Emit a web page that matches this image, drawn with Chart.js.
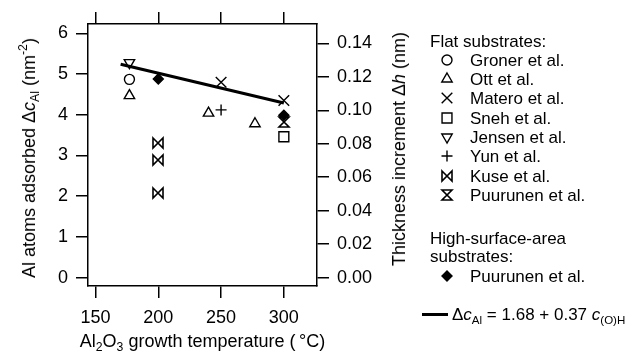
<!DOCTYPE html>
<html>
<head>
<meta charset="utf-8">
<script src="https://cdn.jsdelivr.net/npm/chart.js@4"></script>
<style>
  html, body { margin: 0; padding: 0; background: #fff; }
  #wrap { position: relative; width: 641px; height: 358px; overflow: hidden;
          font-family: "Liberation Sans", Arial, sans-serif; color: #000; }
  #chart { position: absolute; left: 0; top: 0; }
  .title { position: absolute; white-space: nowrap; font-size: 18px; line-height: 1;
           transform: translate(-50%, -50%); }
  .title.rot { transform: translate(-50%, -50%) rotate(-90deg); }
  sub, sup { font-size: 0.68em; line-height: 0; }
  sub { vertical-align: -0.35em; }
  sup { vertical-align: 0.65em; }
  .row { position: absolute; white-space: nowrap; font-size: 17px; line-height: 1;
         transform: translateY(-50%); }
  .sym { position: absolute; }
  .fitline { position: absolute; height: 3px; background: #000; }
</style>
</head>
<body>
<div id="wrap">
  <canvas id="chart" width="641" height="358"></canvas>
  <div class="title rot" style="left:28.5px; top:157.5px">Al atoms adsorbed &Delta;<i>c</i><sub>Al</sub> (nm<sup>-2</sup>)</div>
  <div class="title rot" style="left:398.5px; top:149px">Thickness increment &Delta;<i>h</i> (nm)</div>
  <div class="title" style="left:202.5px; top:341px">Al<sub>2</sub>O<sub>3</sub> growth temperature (&#8201;&deg;C)</div>
  <div id="legend"></div>
</div>
<script>
// growth temperature (°C) and Al atoms adsorbed (nm^-2) per literature source
const gronerT = [177];
const gronerC = [4.87];
const ottT = [177, 240, 277];
const ottC = [4.47, 4.04, 3.78];
const materoT = [250, 300];
const materoC = [4.80, 4.35];
const snehT = [300];
const snehC = [3.46];
const jensenT = [177];
const jensenC = [5.28];
const yunT = [250];
const yunC = [4.12];
const kuseT = [200, 200, 200];
const kuseC = [3.31, 2.89, 2.08];
const puurunenFlatT = [300];
const puurunenFlatC = [3.82];
const puurunenHsaT = [200, 300];
const puurunenHsaC = [4.88, 3.99];

// dc_Al = 1.68 + 0.37 c_(O)H, evaluated at the ends of the temperature range
const fitT = [170, 300];
const fitC = [5.24, 4.29];

const tempTicks = [150, 200, 250, 300];
const cTicks = [0, 1, 2, 3, 4, 5, 6];
const hTicks = [0, 0.02, 0.04, 0.06, 0.08, 0.10, 0.12, 0.14];

// open bow-tie / hourglass symbols have no built-in point style
function glyph(kind) {
    const c = document.createElement('canvas');
    c.width = 14;
    c.height = 14;
    const g = c.getContext('2d');
    g.strokeStyle = '#000';
    g.lineWidth = 1.6;
    const a = 2, b = 12;
    g.beginPath();
    if (kind === 'bowtie') {
        g.moveTo(a, a); g.lineTo(b, b); g.lineTo(b, a); g.lineTo(a, b);
    } else {
        g.moveTo(a, a); g.lineTo(b, a); g.lineTo(a, b); g.lineTo(b, b);
    }
    g.closePath();
    g.stroke();
    return c;
}

const markers = {
    groner: { style: 'circle', radius: 5 },
    ott: { style: 'triangle', radius: 6 },
    matero: { style: 'crossRot', radius: 7.5 },
    sneh: { style: 'rect', radius: 7 },
    jensen: { style: 'triangle', radius: 6, rotation: 180 },
    yun: { style: 'cross', radius: 5.5 },
    kuse: { style: glyph('bowtie'), radius: 6 },
    puurunenFlat: { style: glyph('hourglass'), radius: 6 },
    puurunenHsa: { style: 'rectRot', radius: 5, filled: true }
};

function series(label, xs, ys, m) {
    return {
        label: label,
        data: xs.map((x, i) => ({ x: x, y: ys[i] })),
        showLine: false,
        pointStyle: m.style,
        pointRadius: m.radius,
        pointHoverRadius: m.radius,
        pointRotation: m.rotation || 0,
        pointBorderWidth: 1.4,
        pointBorderColor: '#000',
        pointBackgroundColor: m.filled ? '#000' : 'rgba(0,0,0,0)',
        borderColor: '#000'
    };
}

const datasets = [
    series('Puurunen et al. (high-surface-area)', puurunenHsaT, puurunenHsaC, markers.puurunenHsa),
    {
        label: 'fit',
        data: fitT.map((x, i) => ({ x: x, y: fitC[i] })),
        showLine: true,
        borderColor: '#000',
        borderWidth: 3,
        pointRadius: 0,
        pointHoverRadius: 0
    },
    series('Groner et al.', gronerT, gronerC, markers.groner),
    series('Ott et al.', ottT, ottC, markers.ott),
    series('Matero et al.', materoT, materoC, markers.matero),
    series('Sneh et al.', snehT, snehC, markers.sneh),
    series('Jensen et al.', jensenT, jensenC, markers.jensen),
    series('Yun et al.', yunT, yunC, markers.yun),
    series('Kuse et al.', kuseT, kuseC, markers.kuse),
    series('Puurunen et al.', puurunenFlatT, puurunenFlatC, markers.puurunenFlat)
];

Chart.defaults.font.family = '"Liberation Sans", Arial, sans-serif';
Chart.defaults.font.size = 18;
Chart.defaults.color = '#000';

const tickMarks = { drawOnChartArea: false, drawTicks: true, tickLength: 12, color: '#000', lineWidth: 1.5 };
const frame = { display: true, color: '#000', width: 1.5 };

function fixTicks(values) {
    return scale => { scale.ticks = values.map(v => ({ value: v })); };
}

// keep the image point styles crisp instead of resampled at fractional positions
const crispImages = {
    id: 'crispImages',
    beforeDatasetsDraw(chart) { chart.ctx.imageSmoothingEnabled = false; },
    afterDatasetsDraw(chart) { chart.ctx.imageSmoothingEnabled = true; }
};

new Chart(document.getElementById('chart'), {
    type: 'scatter',
    data: { datasets: datasets },
    plugins: [crispImages],
    options: {
        responsive: false,
        animation: false,
        events: [],
        layout: { padding: 0 },
        plugins: { legend: { display: false }, tooltip: { enabled: false } },
        scales: {
            x: {
                type: 'linear', position: 'bottom', min: 144, max: 326.4,
                afterBuildTicks: fixTicks(tempTicks),
                afterFit: s => { s.height = 72; },
                grid: tickMarks, border: frame,
                ticks: { padding: 9, maxRotation: 0, callback: v => String(v) }
            },
            xTop: {
                type: 'linear', position: 'top', min: 144, max: 326.4,
                afterBuildTicks: fixTicks(tempTicks),
                afterFit: s => { s.height = 24; },
                grid: tickMarks, border: frame,
                ticks: { display: false }
            },
            y: {
                type: 'linear', position: 'left', min: -0.204, max: 6.229,
                afterBuildTicks: fixTicks(cTicks),
                afterFit: s => { s.width = 88; },
                grid: tickMarks, border: frame,
                ticks: { padding: 8, callback: v => String(v) }
            },
            yR: {
                type: 'linear', position: 'right', min: -0.00496, max: 0.15153,
                afterBuildTicks: fixTicks(hTicks),
                afterFit: s => { s.width = 324; },
                grid: tickMarks, border: frame,
                ticks: { padding: 8, callback: v => v.toFixed(2) }
            }
        }
    }
});

// legend on the right
const legend = document.getElementById('legend');
const rowY0 = 40.5, rowStep = 19.3;
const symX = 447, textX = 470, headX = 430;

function addRow(html, x, y) {
    const d = document.createElement('div');
    d.className = 'row';
    d.style.left = x + 'px';
    d.style.top = y + 'px';
    d.innerHTML = html;
    legend.appendChild(d);
}

function addSymbol(m, x, y) {
    const c = document.createElement('canvas');
    c.width = 20;
    c.height = 20;
    c.className = 'sym';
    c.style.left = (x - 10) + 'px';
    c.style.top = Math.round(y - 10) + 'px';
    const ctx = c.getContext('2d');
    ctx.strokeStyle = '#000';
    ctx.fillStyle = m.filled ? '#000' : 'rgba(0,0,0,0)';
    ctx.lineWidth = 1.4;
    Chart.helpers.drawPoint(ctx, {
        pointStyle: m.style, radius: m.radius, rotation: m.rotation || 0, borderWidth: 1.4
    }, 10, 10);
    legend.appendChild(c);
}

const flatEntries = [
    ['Groner et al.', markers.groner],
    ['Ott et al.', markers.ott],
    ['Matero et al.', markers.matero],
    ['Sneh et al.', markers.sneh],
    ['Jensen et al.', markers.jensen],
    ['Yun et al.', markers.yun],
    ['Kuse et al.', markers.kuse],
    ['Puurunen et al.', markers.puurunenFlat]
];

addRow('Flat substrates:', headX, rowY0);
flatEntries.forEach((e, i) => {
    const y = rowY0 + rowStep * (i + 1);
    addSymbol(e[1], symX, y);
    addRow(e[0], textX, y);
});

addRow('High-surface-area', headX, 238);
addRow('substrates:', headX, 256);
addSymbol(markers.puurunenHsa, symX, 275.5);
addRow('Puurunen et al.', textX, 275.5);

const ln = document.createElement('div');
ln.className = 'fitline';
ln.style.left = '421.7px';
ln.style.width = '26.6px';
ln.style.top = '312.5px';
legend.appendChild(ln);
addRow('&Delta;<i>c</i><sub>Al</sub> = 1.68 + 0.37 <i>c</i><sub>(O)H</sub>', 452, 314);
</script>
</body>
</html>
